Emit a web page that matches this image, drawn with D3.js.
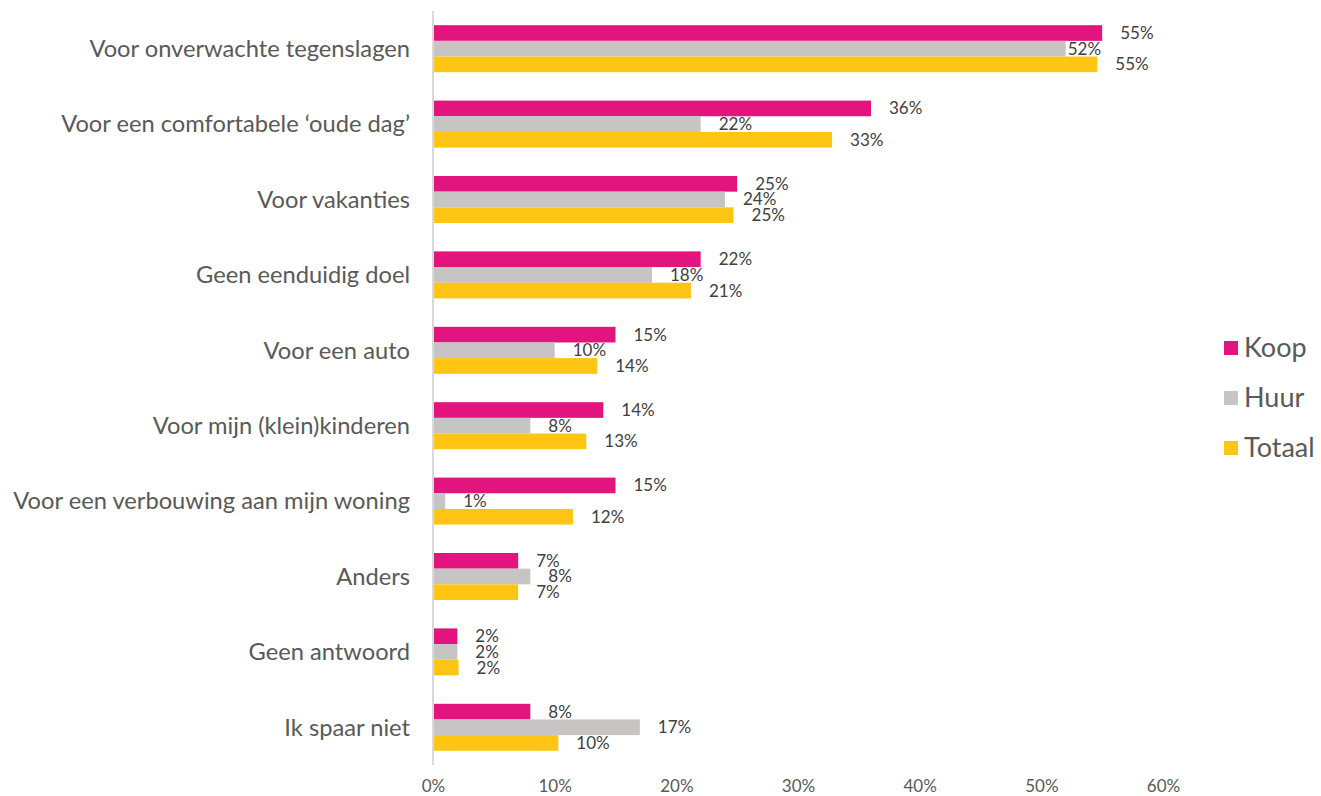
<!DOCTYPE html>
<html lang="nl">
<head>
<meta charset="utf-8">
<title>Spaardoelen</title>
<style>
  body { margin: 0; background: #fff; }
  svg text { font-family: Lato, "Open Sans", sans-serif; }
</style>
<script src="https://d3js.org/d3.v7.min.js"></script>
</head>
<body>
<svg id="chart" width="1321" height="796"></svg>
<script>
// categories, top to bottom
var categories = [
  "Voor onverwachte tegenslagen",
  "Voor een comfortabele \u2018oude dag\u2019",
  "Voor vakanties",
  "Geen eenduidig doel",
  "Voor een auto",
  "Voor mijn (klein)kinderen",
  "Voor een verbouwing aan mijn woning",
  "Anders",
  "Geen antwoord",
  "Ik spaar niet"
];
var seriesNames = ["Koop", "Huur", "Totaal"];
var seriesColors = ["#E2157F", "#C6C5C3", "#FFC514"];

// percentages
var koop   = [55, 36, 25, 22, 15, 14, 15, 7, 2, 8];
var huur   = [52, 22, 24, 18, 10, 8, 1, 8, 2, 17];
var totaal = [54.6, 32.8, 24.7, 21.2, 13.5, 12.6, 11.5, 7, 2.1, 10.3];
var xTicks = [0, 10, 20, 30, 40, 50, 60];

var values = [koop, huur, totaal];

var svg = d3.select("#chart");

// plot area (note: "top" is reserved on window, so use other names)
var plotLeft = 433, plotRight = 1163, plotTop = 11, plotBottom = 765;

var x = d3.scaleLinear().domain([0, 60]).range([plotLeft, plotRight]);
var y = d3.scaleBand().domain(categories).range([plotTop, plotBottom]);
// each group of three bars is about 47px tall inside a 75px band
var groupH = 47;
var yInner = d3.scaleBand().domain(seriesNames)
  .range([(y.bandwidth() - groupH) / 2, (y.bandwidth() + groupH) / 2]);

// bars
var groups = svg.append("g").selectAll("g")
  .data(categories)
  .join("g")
  .attr("transform", function(d) { return "translate(0," + y(d) + ")"; });

seriesNames.forEach(function(s, si) {
  groups.append("rect")
    .attr("x", x(0) + 1)
    .attr("y", yInner(s))
    .attr("width", function(d, i) { return x(values[si][i]) - x(0) - 1; })
    .attr("height", yInner.bandwidth())
    .attr("fill", seriesColors[si]);

  groups.append("text")
    // the 52% label sits almost against its bar in the original
    .attr("x", function(d, i) { return x(values[si][i]) + ((si === 1 && i === 0) ? 2 : 18); })
    .attr("y", yInner(s) + yInner.bandwidth() / 2)
    .attr("dy", "0.35em")
    .attr("font-size", 17)
    .attr("fill", "#404040")
    .text(function(d, i) { return Math.round(values[si][i]) + "%"; });
});

// vertical axis line
svg.append("line")
  .attr("x1", x(0)).attr("x2", x(0))
  .attr("y1", plotTop).attr("y2", plotBottom)
  .attr("stroke", "#D9D9D9")
  .attr("stroke-width", 2);

// category labels
svg.append("g").selectAll("text")
  .data(categories)
  .join("text")
  .attr("x", 410)
  .attr("y", function(d) { return y(d) + y.bandwidth() / 2; })
  .attr("dy", "0.35em")
  .attr("text-anchor", "end")
  .attr("font-size", 23.7)
  .attr("fill", "#595959")
  .text(function(d) { return d; });

// x axis labels
var xAxis = d3.axisBottom(x)
  .tickValues(xTicks)
  .tickSize(0)
  .tickPadding(0)
  .tickFormat(function(d) { return d + "%"; });

svg.append("g")
  .attr("transform", "translate(0,780)")
  .call(xAxis)
  .call(function(g) { g.select(".domain").remove(); })
  .selectAll("text")
  .attr("font-family", "Lato, sans-serif")
  .attr("font-size", 17)
  .attr("fill", "#595959");

// legend
var legend = svg.append("g").selectAll("g")
  .data(seriesNames)
  .join("g")
  .attr("transform", function(d, i) { return "translate(1224," + (348 + i * 50) + ")"; });

legend.append("rect")
  .attr("x", 0).attr("y", -7)
  .attr("width", 14).attr("height", 14)
  .attr("fill", function(d, i) { return seriesColors[i]; });

legend.append("text")
  .attr("x", 20)
  .attr("dy", "0.35em")
  .attr("font-size", 27)
  .attr("fill", "#595959")
  .text(function(d) { return d; });
</script>
</body>
</html>
